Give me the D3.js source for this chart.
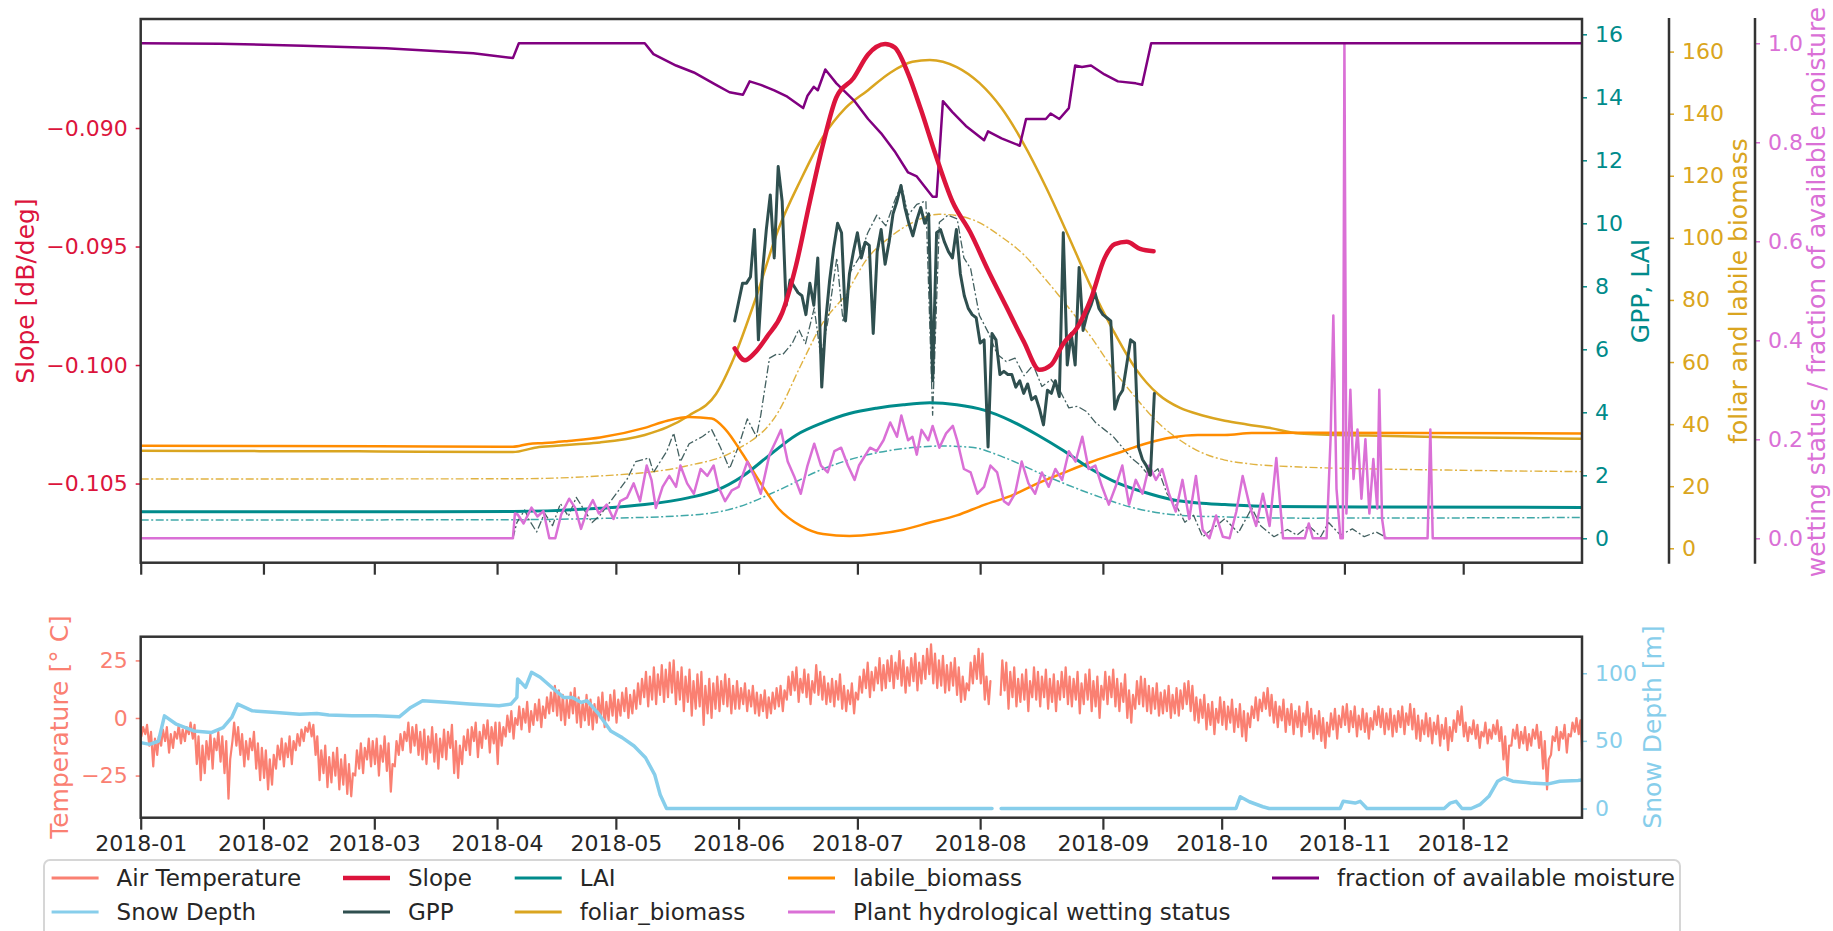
<!DOCTYPE html>
<html>
<head>
<meta charset="utf-8">
<script src="https://cdn.jsdelivr.net/npm/d3@7"></script>
<style>
  body { margin: 0; background: #fff; }
  svg { display: block; font-family: "DejaVu Sans", sans-serif; }
</style>
</head>
<body>
<svg id="chart" width="1833" height="931"></svg>
<script>
// ---------------- data (day of year 2018, 0 = Jan 1) ----------------
const monthLabels = ["2018-01","2018-02","2018-03","2018-04","2018-05","2018-06",
                     "2018-07","2018-08","2018-09","2018-10","2018-11","2018-12"];
const slopeTicks = [-0.105, -0.100, -0.095, -0.090];
const gppTicks = [0, 2, 4, 6, 8, 10, 12, 14, 16];
const biomassTicks = [0, 20, 40, 60, 80, 100, 120, 140, 160];
const wetTicks = [0, 0.2, 0.4, 0.6, 0.8, 1.0];
const tempTicks = [-25, 0, 25];
const snowTicks = [0, 50, 100];

// backscatter slope [dB/deg]
const slope = [[150,-0.0993],[152.6,-0.0998],[155,-0.0995],[158.2,-0.0988],[162,-0.0978],[165.5,-0.0958],
  [169,-0.0931],[172.3,-0.0907],[175.7,-0.0887],[180,-0.0879],[183.7,-0.0869],[188,-0.08646],[190.4,-0.0866],
  [193.8,-0.0877],[197,-0.0892],[200.5,-0.0910],[205,-0.0931],[209.5,-0.0944],[214,-0.0960],[218.5,-0.0975],
  [223,-0.0990],[227,-0.1002],[229.9,-0.1000],[233,-0.0991],[236.6,-0.0984],[240,-0.0972],[243.4,-0.0955],
  [246,-0.0949],[249,-0.0948],[252.4,-0.0951],[255.8,-0.0952]];

// daily GPP, starting at day 150
const gppStart = 150;
const gpp = [6.9,7.5,8.1,8.1,8.3,9.8,6.3,8.4,9.8,10.9,
  8.9,11.8,10.7,7.4,8.2,8.0,7.8,7.7,7.1,8.1,
  7.4,8.9,4.8,6.9,8.2,9.2,10.0,9.7,6.9,8.4,
  9.1,9.7,8.9,9.4,9.3,6.5,9.1,9.8,8.7,9.4,
  10.3,10.7,11.2,10.5,10.0,9.6,10.1,10.5,10.0,10.3,
  5.0,9.7,9.8,9.4,9.1,8.9,9.8,8.4,7.7,7.3,
  7.1,7.0,6.2,6.3,2.9,6.5,6.3,5.2,5.3,5.2,
  5.2,4.8,5.0,4.6,4.9,4.4,4.5,4.1,3.6,4.7,
  4.6,5.0,4.5,9.7,5.5,6.5,5.5,8.6,6.6,7.1,
  7.4,7.8,7.3,7.1,7.0,6.9,4.1,4.5,4.7,5.5,
  6.3,6.2,2.9,2.5,2.3,2.0,4.6];

// modelled GPP (dash-dot)
const gppModel = [[94,0],[95,0.5],[97,0.9],[98,0.6],[100,0.2],[102,0.8],[104,0.4],[106,1.1],[108,0.7],[110,1.3],
  [112,0.9],[114,0.5],[116,0.73],[119.4,1.3],[122.8,1.87],[125,2.43],[128.4,2.55],[129.5,2.09],[132.9,2.77],
  [134.6,3.34],[136.3,2.43],[138.5,3.0],[141.9,3.23],[144.2,3.45],[146.4,2.89],[148.7,2.21],[150.9,2.89],
  [153.2,3.79],[155.5,3.23],[156.6,3.91],[158.8,5.72],[160.5,5.84],[162.2,5.84],[164.5,6.18],[166.2,6.63],
  [167.9,6.18],[170.1,7.31],[171.8,5.72],[173.5,6.86],[175.8,8.9],[177.4,6.86],[179.1,8.44],[181.4,8.9],
  [183.6,9.69],[185.9,10.26],[188.2,9.92],[190.4,10.71],[192.1,11.22],[193.8,10.26],[196,10.6],[198.3,10.71],
  [200,3.91],[201.7,10.03],[203.9,10.26],[206.2,10.14],[207.9,8.9],[209.6,8.56],[211.8,7.08],[214.1,6.52],
  [216.3,5.84],[218.6,5.61],[220.8,5.72],[223.1,5.16],[225.4,5.5],[227.6,4.82],[229.9,5.04],[232.1,4.7],
  [234.4,4.14],[236.6,4.19],[238.9,4.02],[241.1,3.68],[243.4,3.45],[245.6,3.23],[247.9,2.89],[250.2,2.55],
  [252.4,2.32],[254.7,1.98],[256.9,2.21],[259.2,1.41],[261.4,1.07],[263.7,0.51],[265.9,0.73],[268.2,0.05],
  [270.5,0.28],[273.8,0.62],[277.2,0.17],[280.6,0.96],[282.9,0.39],[286.2,0.05],[289.6,0.28],[292,0.1],
  [295,0.4],[298,0.05],[300,0.5],[303,0.1],[306,0.3],[309,0.05],[312,0.2],[315,0],[320,0]];

// leaf area index
const lai = [[0,0.84],[60,0.84],[94,0.85],[116,0.95],[127.3,1.07],[138.5,1.29],[145.3,1.52],[152.1,1.98],
  [158.9,2.65],[165.6,3.28],[172.3,3.67],[179,3.96],[185.8,4.13],[192.6,4.24],[199.3,4.3],[206.1,4.24],
  [213,4.07],[219.8,3.73],[226.5,3.28],[233.2,2.77],[240,2.2],[246.8,1.75],[253.5,1.46],[260.3,1.23],
  [267,1.12],[273.8,1.07],[285,1.01],[310,0.99],[364,0.98]];
const laiModel = [[0,0.58],[94,0.59],[116,0.63],[138.5,0.73],[149.8,0.95],[161,1.52],[172.3,2.2],[183.6,2.65],
  [194.9,2.88],[203,2.93],[210.3,2.88],[217.4,2.6],[228.6,1.98],[240,1.41],[251.3,0.95],[262.5,0.73],
  [273.8,0.68],[292.7,0.64],[364,0.66]];

// foliar and labile biomass
const foliar = [[0,31.4],[30,31.3],[60,31.2],[94,31.0],[100,32.5],[105,33.0],[110,33.5],[116,34.1],
  [127.3,36.5],[133,39],[138.5,42.8],[145.3,49.7],[149.8,61.3],[155.4,80.8],[161,102.6],[166.7,118.7],
  [172.3,132.5],[177.9,141.7],[183.6,147.5],[189.3,153.2],[194.9,156.7],[199.3,157.3],[206.1,155],
  [211.8,149.9],[217.4,141.8],[223,130.3],[228.6,116.4],[234.4,100.3],[240,84.2],[245.5,70.4],[251.3,57.8],
  [256.9,49.7],[262.5,45.2],[268.2,42.8],[273.8,41.1],[279.4,39.9],[285,38.8],[292.7,37.0],[310,36.3],
  [330,35.8],[364,35.3]];
const foliarModel = [[0,22.3],[94,22.4],[116,23.3],[138.5,26.7],[149.8,31.3],[161,43.9],[166.7,58.9],
  [172.3,72.7],[177.9,81.6],[183.6,93.5],[189.3,100.3],[194.9,104.9],[201.6,107.6],[206.1,107.2],
  [211.8,104.9],[217.4,100.3],[223,94.6],[228.6,86.5],[234.4,77.4],[240,68.1],[245.5,57.8],[251.3,48.5],
  [256.9,40.5],[262.5,34.8],[268.2,30.7],[273.8,28.4],[279.4,27.3],[292.7,26.2],[330,25.2],[364,24.7]];
const labile = [[0,33.0],[60,32.9],[94,32.7],[98,33.6],[102,33.9],[108,34.6],[116,35.7],[127.3,38.8],
  [133,41.1],[138.5,42.3],[144.2,41.8],[147.6,38.4],[152.1,30.2],[156.6,20.9],[161,12.9],[166.7,7.2],
  [172.3,4.6],[179,4.0],[185.8,4.6],[192.6,6.0],[199.3,8.3],[206.1,10.6],[213,14.0],[219.8,16.9],
  [226.5,20.9],[233.2,24.4],[240,27.8],[246.8,30.7],[253.5,33.6],[260.3,35.7],[267,36.5],[273.8,36.5],
  [280.6,37.1],[292.7,37.2],[364,37.0]];

// plant hydrological wetting status
const wetting = [[0,0],[94,0],[94.5,0.05],[95.2,0.048],[96.7,0.03],[98.7,0.062],[100.2,0.044],[101.7,0.055],
  [103.2,0],[104.7,0],[106.2,0.048],[108.2,0.08],[109.7,0.062],[111.2,0.019],[112.7,0.055],[114.2,0.077],
  [115.7,0.05],[117.7,0.068],[119.4,0.039],[121.1,0.075],[122.8,0.082],[124.5,0.111],[126.1,0.075],
  [127.8,0.147],[129,0.118],[130.1,0.061],[131.8,0.104],[133.5,0.126],[135.2,0.104],[136.3,0.147],[138,0.111],
  [139.7,0.09],[141.4,0.14],[143.1,0.126],[144.7,0.147],[145.9,0.104],[147.6,0.075],[149.3,0.097],[151,0.104],
  [153.2,0.155],[154.9,0.126],[156.6,0.09],[158.8,0.169],[160.5,0.198],[161.7,0.219],[163.4,0.155],[165,0.126],
  [166.7,0.09],[168.4,0.147],[170.1,0.191],[171.8,0.147],[173.5,0.133],[175.2,0.176],[176.9,0.183],
  [178.6,0.147],[180.3,0.118],[181.4,0.147],[183.1,0.169],[184.2,0.183],[185.9,0.176],[187.6,0.198],
  [189.3,0.234],[191,0.205],[192.1,0.248],[193.8,0.198],[194.9,0.205],[196,0.169],[197.2,0.219],[198.9,0.198],
  [200,0.227],[201.7,0.183],[203.4,0.212],[205.1,0.227],[206.2,0.198],[207.9,0.14],[209.6,0.133],[211.3,0.09],
  [213,0.104],[214.6,0.147],[216.3,0.133],[218,0.075],[219.2,0.068],[220.8,0.09],[222.5,0.155],[224.2,0.111],
  [225.9,0.09],[227.6,0.133],[229.3,0.104],[231,0.14],[232.7,0.118],[234.4,0.176],[236.1,0.155],[237.8,0.205],
  [239.4,0.14],[241.1,0.147],[242.8,0.104],[244.5,0.068],[246.2,0.104],[247.9,0.147],[249.6,0.068],
  [251.3,0.118],[253,0.09],[254.7,0.147],[256.4,0.118],[258,0.14],[259.7,0.09],[261.4,0.054],[263.1,0.118],
  [264.8,0.039],[266.5,0.126],[268.2,0.017],[269.9,0],[271.6,0.046],[273.3,0.003],[275,0],[276.7,0.054],
  [278.3,0.126],[280,0.068],[281.7,0.025],[283.4,0.09],[285.1,0.025],[286.8,0.162],[288.5,0],[290.2,0],
  [292.8,0],[294,0],[295,0.03],[296,0],[299.5,0],[300.5,0.2],[301.2,0.45],[302,0.1],[303,0],[303.6,0],
  [304,1.0],[304.5,0.05],[305.5,0.3],[306.3,0.12],[307.3,0.22],[308.3,0.08],[309.3,0.2],[310.3,0.05],
  [311.3,0.16],[312.3,0.06],[312.8,0.3],[313.5,0.04],[314.2,0],[325,0],[325.7,0.22],[326.3,0],[364,0]];

// fraction of available moisture
const moisture = [[0,1.0],[20,0.999],[41,0.995],[62,0.99],[84,0.98],[94,0.97],[95.5,1.0],[127.3,1.0],
  [129.5,0.978],[135.2,0.955],[139.7,0.941],[145.3,0.916],[148.7,0.901],[152.1,0.896],[153.8,0.923],
  [156.6,0.916],[160,0.905],[163.3,0.892],[167.3,0.869],[168.4,0.894],[170,0.912],[171,0.905],[172.9,0.947],
  [175.7,0.919],[180.3,0.883],[183.7,0.847],[187,0.818],[190.4,0.782],[193.8,0.739],[196,0.731],[200,0.69],
  [201,0.69],[202.6,0.883],[205,0.861],[208.4,0.833],[213,0.804],[214,0.822],[217.4,0.808],[222,0.793],
  [223.6,0.847],[228.6,0.847],[229.8,0.858],[232,0.847],[234.4,0.869],[236,0.955],[237.7,0.952],[240,0.955],
  [243.4,0.937],[246.8,0.923],[251.3,0.919],[252.9,0.916],[255.2,1.0],[364,1.0]];

// daily air temperature extremes [°C], one row per month
const tMax = [
  -4,-3,-6,-9,-8,-5,-4,-7,-6,-3,-5,-4,-2,-3,-8,-12,-10,-7,-9,-6,-8,-10,-18,-2,-4,-7,-10,-9,-6,-11,-13,
  -14,-18,-16,-12,-9,-11,-8,-10,-7,-5,-4,-2,-3,-8,-14,-12,-17,-15,-13,-18,-16,-20,-24,-14,-11,-13,-9,-10,
  -9,-12,-8,-11,-20,-10,-7,-6,-2,-4,-3,-6,-5,-8,-4,-7,-9,-5,-6,-3,-10,-12,-8,-5,-4,-2,-6,-3,-1,-4,-2,
  -2,-4,1,3,0,5,4,7,3,6,8,5,9,11,14,12,10,8,11,13,9,7,10,8,6,9,11,7,10,12,
  8,11,13,10,12,15,17,20,18,22,19,23,21,24,25,20,22,18,21,16,19,20,14,17,15,18,16,19,17,14,16,
  13,15,12,14,11,10,12,9,11,13,14,12,18,20,22,17,21,19,16,23,20,18,15,17,16,19,14,12,15,11,
  18,21,24,20,22,26,23,25,27,24,29,25,22,26,28,24,27,30,32,28,25,27,23,24,26,22,18,15,24,27,30,
  28,18,16,null,null,25,24,20,22,17,19,21,16,22,20,18,21,17,19,16,20,22,18,17,20,15,19,21,16,18,14,
  20,18,21,17,15,19,12,10,16,18,17,14,13,15,11,12,14,10,13,12,15,16,14,9,8,10,6,7,4,9,
  7,5,8,4,6,3,2,5,9,8,11,13,10,7,5,8,4,6,3,5,2,7,4,1,3,0,-2,2,4,1,5,
  6,3,5,1,4,2,0,3,5,4,2,4,1,3,5,2,6,4,1,-1,2,0,-2,1,-3,0,-4,-1,3,5,
  -2,-4,-1,-3,-6,-2,-5,-3,-1,-4,-8,-12,-5,-3,-6,-4,-7,-5,-3,-6,-10,-18,-8,-4,-6,-3,-7,-2,0,-1,-12];
const tMin = [
  -8,-7,-12,-21,-16,-12,-10,-15,-13,-9,-11,-10,-7,-9,-20,-27,-24,-18,-22,-14,-19,-24,-35,-10,-12,-16,-21,-18,-14,-22,-27,
  -26,-31,-29,-22,-18,-21,-17,-20,-14,-12,-10,-6,-8,-16,-27,-24,-30,-28,-25,-31,-29,-33,-34,-25,-22,-24,-18,-21,
  -20,-25,-19,-23,-32,-21,-16,-14,-10,-15,-12,-16,-18,-20,-15,-19,-22,-17,-18,-13,-24,-26,-20,-14,-16,-10,-17,-13,-9,-15,-11,
  -20,-12,-8,-6,-9,-3,-5,-2,-6,-3,-1,-4,0,2,3,1,-1,-3,0,2,-2,-4,-1,-3,-5,-2,0,-4,-1,1,
  -2,1,3,0,2,4,6,9,5,8,6,10,7,9,11,6,8,3,7,1,4,5,-3,2,0,4,3,6,5,2,4,
  4,6,3,5,2,1,3,0,2,4,5,3,8,10,12,7,11,9,6,11,10,8,6,7,5,8,4,3,6,2,
  8,11,13,9,12,15,12,13,16,13,17,14,11,14,16,12,15,17,19,15,13,14,11,12,14,10,7,8,12,15,17,
  15,8,6,null,null,10,12,4,9,5,7,8,3,9,8,5,9,4,7,3,8,9,6,5,8,2,6,8,3,5,0,
  8,6,9,5,3,7,0,-2,4,6,5,3,2,4,1,2,3,0,2,1,4,6,3,-1,-2,0,-5,-3,-7,-2,
  -3,-5,-2,-6,-4,-8,-10,-4,0,-1,3,4,1,-2,-4,-1,-6,-3,-7,-4,-8,-3,-6,-9,-7,-10,-13,-8,-5,-9,-4,
  -3,-6,-4,-8,-5,-6,-9,-5,-3,-4,-7,-5,-8,-6,-4,-7,-3,-5,-9,-10,-7,-8,-11,-7,-12,-9,-14,-10,-6,-3,
  -8,-10,-7,-9,-13,-8,-11,-9,-7,-10,-18,-25,-12,-9,-13,-11,-14,-12,-9,-13,-22,-31,-16,-10,-14,-9,-15,-8,-6,-7,-20];

// snow depth (null = missing record)
const snow = [[0,48.7],[2.3,47.4],[4.5,49.9],[6,68.5],[9,62.3],[13.4,57.3],[17.8,56.1],[20.8,59.8],[23,67.3],
  [24.5,77.2],[28.2,72.2],[34.2,71],[40.1,69.7],[44.5,70.2],[47.5,69.2],[53.4,68.5],[59.4,68.5],[65.3,67.8],
  [68.2,74.7],[71.2,79.7],[77.2,78.5],[83.1,77.2],[90.5,75.9],[93.5,77.2],[95,82.1],[95.2,95.8],[97.2,89.6],
  [98.7,100.7],[100.9,97],[103.8,89.6],[106.8,82.1],[109,82.1],[111.3,78.4],[112.7,79.7],[115.7,69.7],
  [118.7,57.3],[121.6,52.4],[124.6,46.2],[127.5,37.5],[129.8,25.1],[131.2,10.2],[132.8,0],[215,0],
  [215.5,null],[217.3,0],[276.6,0],[277.7,8.7],[280,5],[283.4,1.3],[285,0],[302.9,0],[303.7,5.3],[306.7,4],
  [308,5.3],[309.7,0],[329.2,0],[330.7,4],[332.2,5.3],[333.7,0],[336,0],[338.2,2.8],[340.5,9],[342.7,20.2],
  [344.2,22.6],[346.5,20.2],[351,18.9],[355.5,18.2],[358.4,20.2],[363,20.7],[364,21]];

const legendLabels = ["Air Temperature","Snow Depth","Slope","GPP","LAI","foliar_biomass",
  "labile_biomass","Plant hydrological wetting status","fraction of available moisture"];

// ---------------- drawing ----------------
const C = {
  temp: "#FA8072", snow: "#87CEEB", slope: "#DC143C", gpp: "#2F4F4F", lai: "#008B8B",
  foliar: "#DAA520", labile: "#FF8C00", wet: "#DA70D6", moist: "#800080", spine: "#333333", text: "#262626"
};
const TICK_FS = 22, LABEL_FS = 25, LEGEND_FS = 23;
const svg = d3.select("#chart");
const T0 = new Date(2018, 0, 1).getTime();
const toDate = d => new Date(T0 + d * 864e5);

const L = 140.7, R = 1582;
const top1 = 19, bot1 = 562.7, top2 = 636.7, bot2 = 817.7;

const x = d3.scaleTime().domain([toDate(0), toDate(364)]).range([L, R]);
const ySlope = d3.scaleLinear().domain([-0.10834, -0.0854]).range([bot1, top1]);
const yGpp = d3.scaleLinear().domain([-0.775, 16.486]).range([bot1, top1]);
const yBio = d3.scaleLinear().domain([-4.64, 170.5]).range([bot1, top1]);
const yWet = d3.scaleLinear().domain([-0.0493, 1.049]).range([bot1, top1]);
const yTemp = d3.scaleLinear().domain([-43.3, 35.3]).range([bot2, top2]);
const ySnow = d3.scaleLinear().domain([-6.8, 127]).range([bot2, top2]);

const defs = svg.append("defs");
defs.append("clipPath").attr("id", "clipTop").append("rect")
  .attr("x", L).attr("y", top1).attr("width", R - L).attr("height", bot1 - top1);
defs.append("clipPath").attr("id", "clipBot").append("rect")
  .attr("x", L).attr("y", top2).attr("width", R - L).attr("height", bot2 - top2);

function drawLine(g, data, y, color, width, opts = {}) {
  const gen = d3.line()
    .defined(p => p[1] != null)
    .x(p => x(toDate(p[0])))
    .y(p => y(p[1]))
    .curve(opts.curve || d3.curveLinear);
  g.append("path").datum(data)
    .attr("d", gen)
    .attr("fill", "none")
    .attr("stroke", color)
    .attr("stroke-width", width)
    .attr("stroke-linejoin", "round")
    .attr("stroke-linecap", opts.dash ? "butt" : "round")
    .attr("stroke-dasharray", opts.dash || null)
    .attr("opacity", opts.opacity || 1);
}

// ---- upper panel ----
const gTop = svg.append("g").attr("clip-path", "url(#clipTop)");
const dashDot = "8,2.5,2,2.5";
const gppSeries = gpp.map((v, i) => [gppStart + i, v]);

drawLine(gTop, foliarModel, yBio, C.foliar, 1.4, {dash: dashDot, curve: d3.curveMonotoneX, opacity: 0.85});
drawLine(gTop, laiModel, yGpp, C.lai, 1.5, {dash: dashDot, curve: d3.curveMonotoneX, opacity: 0.75});
drawLine(gTop, gppModel, yGpp, C.gpp, 1.3, {dash: dashDot, opacity: 0.9});
drawLine(gTop, foliar, yBio, C.foliar, 2.5, {curve: d3.curveMonotoneX});
drawLine(gTop, labile, yBio, C.labile, 2.5, {curve: d3.curveMonotoneX});
drawLine(gTop, lai, yGpp, C.lai, 3, {curve: d3.curveMonotoneX});
drawLine(gTop, wetting, yWet, C.wet, 2.5);
drawLine(gTop, gppSeries, yGpp, C.gpp, 3);
drawLine(gTop, moisture, yWet, C.moist, 2.5);
drawLine(gTop, slope, ySlope, C.slope, 4.5, {curve: d3.curveMonotoneX});

// ---- lower panel ----
const gBot = svg.append("g").attr("clip-path", "url(#clipBot)");
const tempSeries = [];
tMax.forEach((v, i) => {
  tempSeries.push([i + 0.17, tMin[i]]);
  tempSeries.push([i + 0.6, v]);
});
drawLine(gBot, tempSeries, yTemp, C.temp, 2.2);
drawLine(gBot, snow, ySnow, C.snow, 3.5);

// ---- axes ----
const monthDates = d3.range(12).map(m => new Date(2018, m, 1));

function styleAxis(g, color, fontColor) {
  g.select(".domain").remove();
  g.selectAll(".tick line").attr("stroke", color);
  g.selectAll(".tick text").attr("fill", fontColor || color)
    .style("font-size", TICK_FS + "px").style("font-family", "DejaVu Sans");
}

function yAxis(gen, xPos, y, ticks, fmt, color) {
  const g = svg.append("g").attr("transform", `translate(${xPos},0)`)
    .call(gen(y).tickValues(ticks).tickFormat(fmt).tickSize(5).tickPadding(8));
  styleAxis(g, color);
  g.selectAll(".tick line").attr("stroke-width", 1.5);
  return g;
}

yAxis(d3.axisLeft, L, ySlope, slopeTicks, d3.format(".3f"), C.slope);
yAxis(d3.axisRight, R, yGpp, gppTicks, d3.format("d"), C.lai);
yAxis(d3.axisRight, 1669, yBio, biomassTicks, d3.format("d"), C.foliar);
yAxis(d3.axisRight, 1755, yWet, wetTicks, d3.format(".1f"), C.wet);
yAxis(d3.axisLeft, L, yTemp, tempTicks, d3.format("d"), C.temp);
yAxis(d3.axisRight, R, ySnow, snowTicks, d3.format("d"), C.snow);

const xTop = svg.append("g").attr("transform", `translate(0,${bot1})`)
  .call(d3.axisBottom(x).tickValues(monthDates).tickFormat("").tickSize(12));
styleAxis(xTop, C.spine);
xTop.selectAll(".tick line").attr("stroke-width", 2.2);

const xBot = svg.append("g").attr("transform", `translate(0,${bot2})`)
  .call(d3.axisBottom(x).tickValues(monthDates).tickFormat((d, i) => monthLabels[i]).tickSize(12).tickPadding(6));
styleAxis(xBot, C.spine, C.text);
xBot.selectAll(".tick line").attr("stroke-width", 2.2);

// ---- spines ----
const spineW = 2.5;
svg.append("rect").attr("x", L).attr("y", top1).attr("width", R - L).attr("height", bot1 - top1)
  .attr("fill", "none").attr("stroke", C.spine).attr("stroke-width", spineW);
svg.append("rect").attr("x", L).attr("y", top2).attr("width", R - L).attr("height", bot2 - top2)
  .attr("fill", "none").attr("stroke", C.spine).attr("stroke-width", spineW);
[1669, 1755].forEach(xp => {
  svg.append("line").attr("x1", xp).attr("x2", xp).attr("y1", top1 - 1).attr("y2", bot1 + 1)
    .attr("stroke", C.spine).attr("stroke-width", spineW);
});

// ---- axis titles ----
function vLabel(text, cx, cy, color) {
  svg.append("text").attr("transform", `translate(${cx},${cy}) rotate(-90)`)
    .attr("text-anchor", "middle").attr("dominant-baseline", "central")
    .attr("fill", color).style("font-size", LABEL_FS + "px").text(text);
}
vLabel("Slope [dB/deg]", 25, 291, C.slope);
vLabel("GPP, LAI", 1640, 291, C.lai);
vLabel("foliar and labile biomass", 1738, 291, C.foliar);
vLabel("wetting status / fraction of available moisture", 1816, 292, C.wet);
vLabel("Temperature [° C]", 59, 727, C.temp);
vLabel("Snow Depth [m]", 1652, 727, C.snow);

// ---- legend ----
const lg = svg.append("g");
lg.append("rect").attr("x", 44).attr("y", 860).attr("width", 1636).attr("height", 110).attr("rx", 6)
  .attr("fill", "#fff").attr("fill-opacity", 0.8).attr("stroke", "#d6d6d6").attr("stroke-width", 2);
const legendColors = [C.temp, C.snow, C.slope, C.gpp, C.lai, C.foliar, C.labile, C.wet, C.moist];
const legendWidths = [3, 3, 4.5, 3, 3, 3, 3, 3, 3];
const colX = [51.6, 343, 514.7, 788, 1272];
const rowY = [878, 912];
legendLabels.forEach((lab, i) => {
  const col = Math.floor(i / 2), row = i % 2;
  const x0 = colX[col], yy = rowY[row];
  lg.append("line").attr("x1", x0).attr("x2", x0 + 47).attr("y1", yy).attr("y2", yy)
    .attr("stroke", legendColors[i]).attr("stroke-width", legendWidths[i]);
  lg.append("text").attr("x", x0 + 65).attr("y", yy).attr("dominant-baseline", "central")
    .attr("fill", C.text).style("font-size", LEGEND_FS + "px").text(lab);
});
</script>
</body>
</html>
